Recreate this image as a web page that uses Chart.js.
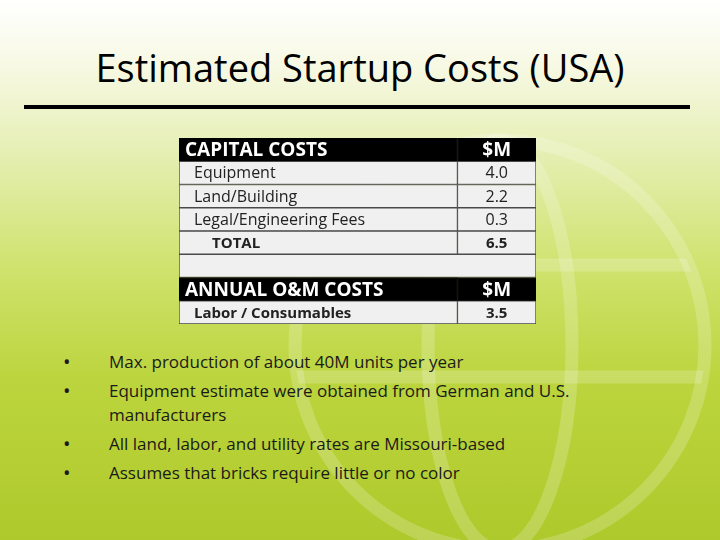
<!DOCTYPE html>
<html>
<head>
<meta charset="utf-8">
<script src="https://cdn.jsdelivr.net/npm/chart.js@4/dist/chart.umd.min.js"></script>
<style>
  html, body { margin: 0; padding: 0; }
  body {
    width: 720px; height: 540px; position: relative; overflow: hidden;
    background: linear-gradient(to bottom, #ffffff 0%, #f7f9e4 12%, #e6efb4 28%, #cfe26c 50%, #bcd53e 70%, #aec92b 100%);
    font-family: "Open Sans", sans-serif;
  }
  #globe { position: absolute; left: 0; top: 0; }
  #title {
    position: absolute; left: 0; top: 45px; width: 720px; text-align: center;
    font-size: 38px; line-height: 44px; color: #000;
  }
  #rule { position: absolute; left: 24px; top: 105px; width: 666px; height: 4px; background: #000; }
  #tableBox { position: absolute; left: 179px; top: 138px; width: 357px; height: 186px; }
  ul { position: absolute; left: 0; top: 350px; margin: 0; padding: 0; list-style: none; font-size: 17px; line-height: 24px; color: #1a1a1a; }
  li { position: relative; padding-left: 109px; width: 500px; margin-bottom: 5px; }
  li::before { content: "\2022"; position: absolute; left: 63px; font-size: 20px; }
</style>
</head>
<body>
<svg id="globe" width="720" height="540">
  <defs><clipPath id="ball"><circle cx="500" cy="345" r="205"/></clipPath></defs>
  <g fill="none" stroke="rgba(255,255,255,0.2)" stroke-width="13">
    <circle cx="500" cy="345" r="205"/>
    <ellipse cx="500" cy="345" rx="72" ry="205"/>
    <g clip-path="url(#ball)">
      <line x1="280" y1="377" x2="720" y2="377"/>
      <line x1="280" y1="265" x2="720" y2="265"/>
    </g>
  </g>
</svg>
<div id="title">Estimated Startup Costs (USA)</div>
<div id="rule"></div>
<div id="tableBox"><canvas id="costTable"></canvas></div>
<ul id="notes"></ul>
<script>
// table rows
const rowLabels = ['CAPITAL COSTS', 'Equipment', 'Land/Building', 'Legal/Engineering Fees', 'TOTAL', '', 'ANNUAL O&M COSTS', 'Labor / Consumables'];
const rowValues = ['$M', '4.0', '2.2', '0.3', '6.5', '', '$M', '3.5'];
const rowKinds = ['header', 'item', 'item', 'item', 'total', 'blank', 'header', 'bold'];
const notes = [
  'Max. production of about 40M units per year',
  'Equipment estimate were obtained from German and U.S. manufacturers',
  'All land, labor, and utility rates are Missouri-based',
  'Assumes that bricks require little or no color'
];

const colSplit = 0.78;

const ul = document.getElementById('notes');
notes.forEach(n => {
  const li = document.createElement('li');
  li.textContent = n;
  ul.appendChild(li);
});

function fillFor(kind) { return kind === 'header' ? '#000000' : '#f0f0f0'; }
function borderFor(kind) { return kind === 'header' ? '#000000' : '#4a4a4a'; }

// draws the cell texts on top of the bar cells
const cellText = {
  id: 'cellText',
  afterDatasetsDraw(chart) {
    const ctx = chart.ctx;
    const labelMeta = chart.getDatasetMeta(0);
    const valueMeta = chart.getDatasetMeta(1);
    ctx.save();
    ctx.textBaseline = 'middle';
    rowLabels.forEach((label, i) => {
      const kind = rowKinds[i];
      const el = labelMeta.data[i];
      if (!label) return;
      let indent = 15, font = '16px "Open Sans"', color = '#222';
      if (kind === 'header') { indent = 6; font = 'bold 19px "Open Sans"'; color = '#fff'; }
      if (kind === 'total') { indent = 33; font = 'bold 15px "Open Sans"'; }
      if (kind === 'bold') { font = 'bold 15px "Open Sans"'; }
      ctx.font = font;
      ctx.fillStyle = color;
      ctx.textAlign = 'left';
      ctx.fillText(label, Math.min(el.x, el.base) + indent, el.y + 1);

      const vel = valueMeta.data[i];
      if (rowValues[i] && vel) {
        ctx.textAlign = 'center';
        ctx.fillText(rowValues[i], (vel.x + vel.base) / 2, vel.y + 1);
      }
    });
    ctx.restore();
  }
};

new Chart(document.getElementById('costTable'), {
  type: 'bar',
  data: {
    labels: rowLabels.map((l, i) => 'r' + i),
    datasets: [
      {
        data: rowKinds.map(k => k === 'blank' ? [0, 1] : [0, colSplit]),
        backgroundColor: rowKinds.map(fillFor),
        borderColor: rowKinds.map(borderFor),
        borderWidth: 1,
        borderSkipped: false,
        grouped: false,
        barPercentage: 1,
        categoryPercentage: 1
      },
      {
        data: rowKinds.map(k => k === 'blank' ? null : [colSplit, 1]),
        backgroundColor: rowKinds.map(fillFor),
        borderColor: rowKinds.map(borderFor),
        borderWidth: 1,
        borderSkipped: false,
        grouped: false,
        barPercentage: 1,
        categoryPercentage: 1
      }
    ]
  },
  options: {
    indexAxis: 'y',
    responsive: true,
    maintainAspectRatio: false,
    animation: false,
    layout: { padding: 0 },
    scales: {
      x: { display: false, min: 0, max: 1 },
      y: { display: false }
    },
    plugins: {
      legend: { display: false },
      tooltip: { enabled: false }
    }
  },
  plugins: [cellText]
});
</script>
</body>
</html>
